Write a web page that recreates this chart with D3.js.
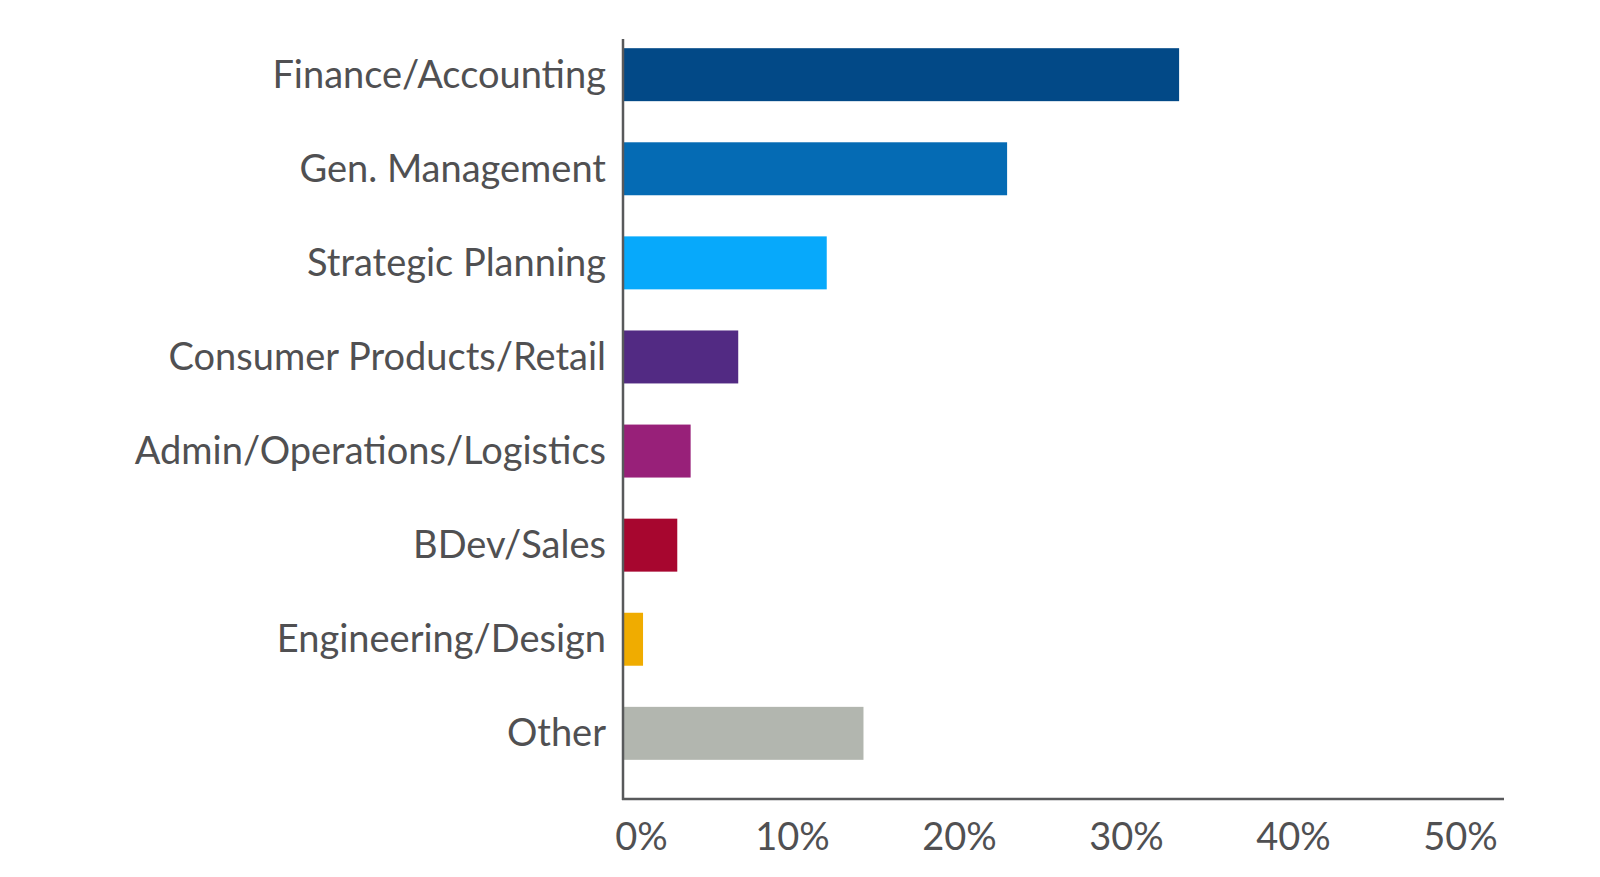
<!DOCTYPE html>
<html>
<head>
<meta charset="utf-8">
<script src="https://cdn.jsdelivr.net/npm/d3@7"></script>
<style>
  html, body { margin: 0; padding: 0; background: #ffffff; }
  svg { display: block; }
  text { font-family: Lato, "Open Sans", sans-serif; }
</style>
</head>
<body>
<script>
const categories = ["Finance/Accounting", "Gen. Management", "Strategic Planning", "Consumer Products/Retail", "Admin/Operations/Logistics", "BDev/Sales", "Engineering/Design", "Other"];
const values = [33.3, 23.0, 12.2, 6.9, 4.05, 3.25, 1.2, 14.4];
const colors = ["#024987", "#056BB4", "#07A9FB", "#522A83", "#982079", "#A7062F", "#F0AC00", "#B2B6AF"];
const tickValues = [0, 10, 20, 30, 40, 50];
const tickLabels = ["0%", "10%", "20%", "30%", "40%", "50%"];

const W = 1600, H = 877;
const x0 = 623, axisTop = 39, axisY = 799, axisRight = 1504;

const svg = d3.select("body").append("svg").attr("width", W).attr("height", H);

const x = d3.scaleLinear().domain([0, 50]).range([x0, 1458]);
const y = d3.scaleBand().domain(categories).range([axisTop, axisY])
  .paddingInner(0.437).paddingOuter(0.257).align(0.19);

// bars
svg.append("g").selectAll("rect").data(categories).join("rect")
  .attr("x", x(0))
  .attr("y", d => y(d))
  .attr("width", (d, i) => x(values[i]) - x(0))
  .attr("height", y.bandwidth())
  .attr("fill", (d, i) => colors[i]);

// category labels
svg.append("g").selectAll("text").data(categories).join("text")
  .attr("x", 606)
  .attr("y", d => y(d) + y.bandwidth() / 2 + 13)
  .attr("text-anchor", "end")
  .attr("fill", "#505052")
  .style("font-size", "38px")
  .text(d => d);

// axes lines
svg.append("line").attr("x1", x0).attr("x2", x0).attr("y1", axisTop).attr("y2", axisY + 1)
  .attr("stroke", "#58595B").attr("stroke-width", 2.5);
svg.append("line").attr("x1", x0 - 1).attr("x2", axisRight).attr("y1", axisY).attr("y2", axisY)
  .attr("stroke", "#58595B").attr("stroke-width", 2.5);

// x tick labels
const xAxis = d3.axisBottom(x).tickValues(tickValues)
  .tickFormat((d, i) => tickLabels[i]).tickSize(0).tickPadding(0);
const gx = svg.append("g").attr("transform", `translate(0,${axisY})`).call(xAxis);
gx.select(".domain").remove();
gx.selectAll("text")
  .attr("y", 51)
  .attr("dy", 0)
  .attr("dx", d => d === 0 ? 18 : 2)
  .attr("fill", "#505052")
  .style("font-size", "38px")
  .style("font-family", "Lato, 'Open Sans', sans-serif");
</script>
</body>
</html>
